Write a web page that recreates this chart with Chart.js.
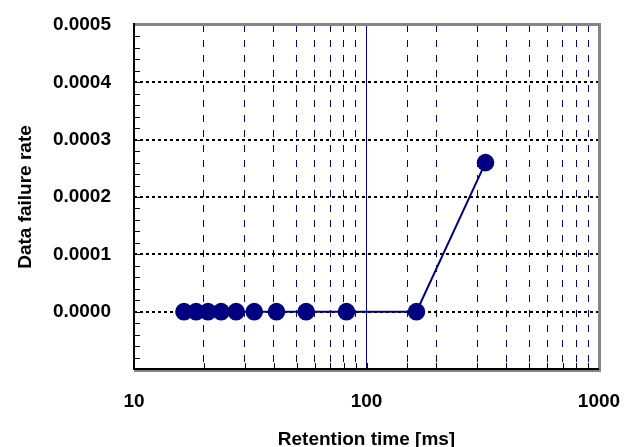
<!DOCTYPE html>
<html>
<head>
<meta charset="utf-8">
<script src="https://cdn.jsdelivr.net/npm/chart.js@4"></script>
<style>
  html, body { margin: 0; padding: 0; background: #fff; }
  canvas { display: block; }
</style>
</head>
<body>
<canvas id="chart" width="625" height="447"></canvas>
<script>
/* data */
const retentionTimes = [16.4, 18.5, 20.8, 23.7, 27.5, 32.9, 41, 55, 82, 164, 325];
const failureRates   = [0, 0, 0, 0, 0, 0, 0, 0, 0, 0, 0.00026];
const xTickLabels = [10, 100, 1000];
const yTickLabels = [0, 0.0001, 0.0002, 0.0003, 0.0004, 0.0005];

const NAVY = '#000080';
const FONT = 'Arial, "Liberation Sans", sans-serif';

const isDecade = v => Math.abs(Math.log10(v) - Math.round(Math.log10(v))) < 1e-6;
const hasLabel = (list, v) => list.some(t => Math.abs(t - v) < 1e-9);

// inner tick marks + Excel-like plot frame
const framePlugin = {
  id: 'frame',
  afterDraw(chart) {
    const { ctx, chartArea: a, scales: { x, y } } = chart;
    ctx.save();
    ctx.strokeStyle = '#000';
    ctx.lineWidth = 1;
    ctx.beginPath();
    x.ticks.forEach(t => {
      const px = Math.round(x.getPixelForValue(t.value)) + 0.5;
      ctx.moveTo(px, a.bottom);
      ctx.lineTo(px, a.bottom - 6);
    });
    const minorStep = 0.00002;
    for (let v = y.min; v <= y.max + 1e-12; v += minorStep) {
      const py = Math.round(y.getPixelForValue(v)) + 0.5;
      ctx.moveTo(a.left, py);
      ctx.lineTo(a.left + 6, py);
    }
    ctx.stroke();

    // gray top / right edge
    ctx.strokeStyle = '#858585';
    ctx.lineWidth = 3;
    ctx.beginPath();
    ctx.moveTo(a.left, a.top - 0.5);
    ctx.lineTo(a.right + 0.5, a.top - 0.5);
    ctx.lineTo(a.right + 0.5, a.bottom + 1.5);
    ctx.lineTo(a.left, a.bottom + 1.5);
    ctx.stroke();

    // black left / bottom axis
    ctx.strokeStyle = '#000';
    ctx.lineWidth = 2;
    ctx.beginPath();
    ctx.moveTo(a.left, a.top - 2);
    ctx.lineTo(a.left, a.bottom);
    ctx.lineTo(a.right, a.bottom);
    ctx.stroke();
    ctx.restore();
  }
};

new Chart(document.getElementById('chart'), {
  type: 'scatter',
  data: {
    datasets: [{
      data: retentionTimes.map((t, i) => ({ x: t, y: failureRates[i] })),
      showLine: true,
      borderColor: NAVY,
      borderWidth: 2,
      backgroundColor: NAVY,
      pointBackgroundColor: NAVY,
      pointBorderWidth: 0,
      pointRadius: 8.8,
      pointHoverRadius: 8.8,
      clip: false
    }]
  },
  options: {
    responsive: false,
    animation: false,
    events: [],
    layout: { padding: { top: 25, right: 26, left: 0, bottom: 0 } },
    plugins: { legend: { display: false }, tooltip: { enabled: false } },
    scales: {
      x: {
        type: 'logarithmic',
        min: 10, max: 1000,
        afterFit: s => {
          s.height = 78;
          s.paddingLeft = 0;
          s.paddingRight = 0;
        },
        grid: {
          drawTicks: false,
          lineWidth: 1,
          color: c => (c.tick && (c.tick.value <= 10 || c.tick.value >= 1000)) ? 'transparent' : NAVY
        },
        border: {
          display: false,
          dash: c => (c.tick && isDecade(c.tick.value)) ? [] : [7, 8]
        },
        ticks: {
          autoSkip: false,
          maxRotation: 0,
          padding: 21,
          color: '#000',
          font: { family: FONT, size: 19, weight: 'bold' },
          callback: v => hasLabel(xTickLabels, v) ? String(v) : ''
        },
        title: {
          display: true,
          text: 'Retention time [ms]',
          color: '#000',
          padding: { top: 0, bottom: 0 },
          font: { family: FONT, size: 19, weight: 'bold', lineHeight: 0.8 }
        }
      },
      y: {
        min: -0.0001, max: 0.0005,
        afterFit: s => {
          s.width = 134;
          s.paddingTop = 0;
          s.paddingBottom = 0;
        },
        grid: {
          drawTicks: false,
          lineWidth: 2,
          color: c => (c.tick && c.tick.value > -1e-9 && c.tick.value < 0.00045) ? '#000' : 'transparent'
        },
        border: { display: false, dash: [3, 3] },
        ticks: {
          stepSize: 0.0001,
          autoSkip: false,
          padding: 23,
          color: '#000',
          font: { family: FONT, size: 19, weight: 'bold' },
          callback: v => hasLabel(yTickLabels, v) ? v.toFixed(4) : ''
        },
        title: {
          display: true,
          text: 'Data failure rate',
          color: '#000',
          padding: { top: 16, bottom: 0 },
          font: { family: FONT, size: 19, weight: 'bold', lineHeight: 1 }
        }
      }
    }
  },
  plugins: [framePlugin]
});
</script>
</body>
</html>
